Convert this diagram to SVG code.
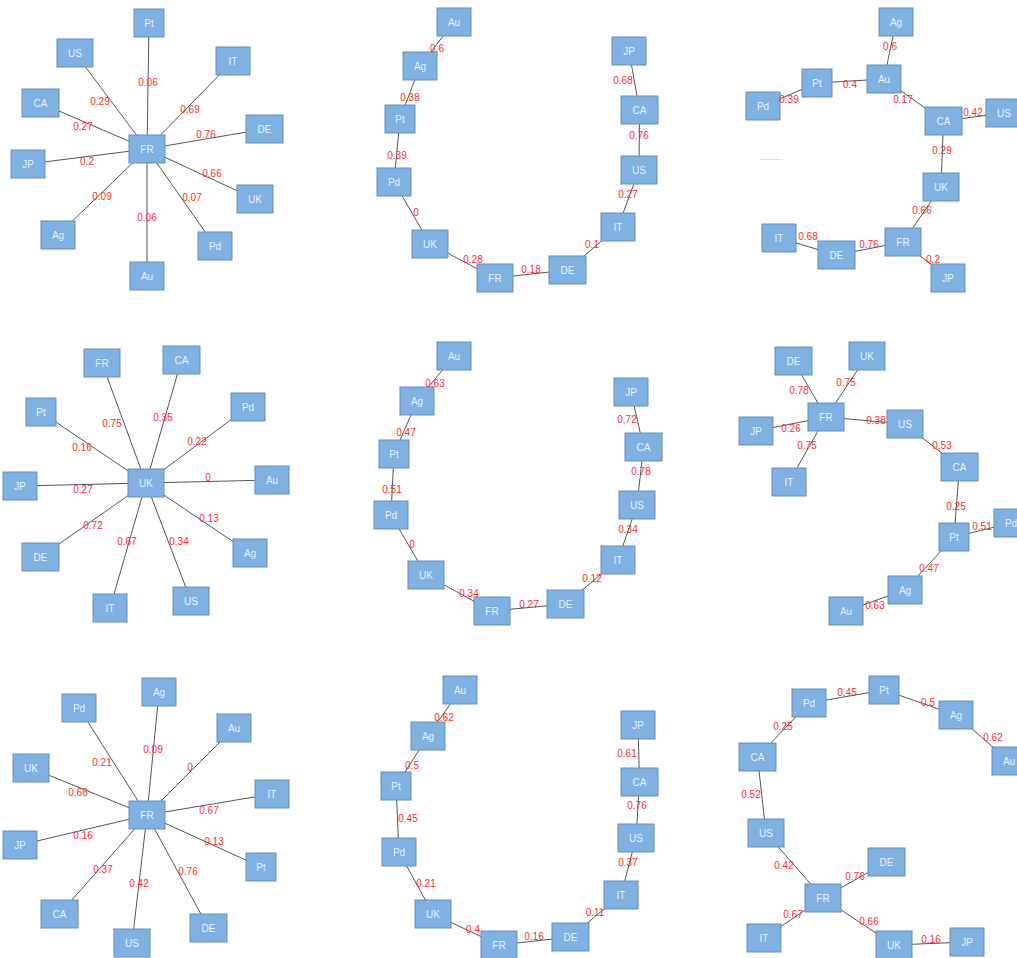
<svg xmlns="http://www.w3.org/2000/svg" width="1017" height="958" viewBox="0 0 1017 958">
<style>
.n rect{fill:#7fb1e3;stroke:#6a8db3;stroke-width:1}
.n text{fill:#eaf2fb;font-family:"Liberation Sans",Arial,sans-serif;font-size:10px;text-anchor:middle}
.e line{stroke:#555;stroke-width:1}
.l text{fill:#ff2b2b;font-family:"Liberation Sans",Arial,sans-serif;font-size:10px;text-anchor:middle}
</style>
<rect width="1017" height="958" fill="#fff"/>
<g id="connectors" class="e">
<!-- panel 1 -->
<line x1="147" y1="149" x2="149" y2="23"/>
<line x1="147" y1="149" x2="75" y2="53"/>
<line x1="147" y1="149" x2="233" y2="61"/>
<line x1="147" y1="149" x2="40.5" y2="103"/>
<line x1="147" y1="149" x2="264.5" y2="129"/>
<line x1="147" y1="149" x2="28" y2="164"/>
<line x1="147" y1="149" x2="255" y2="199"/>
<line x1="147" y1="149" x2="58" y2="235"/>
<line x1="147" y1="149" x2="215" y2="246"/>
<line x1="147" y1="149" x2="147" y2="276"/>
<!-- panel 2 -->
<line x1="454" y1="22" x2="420" y2="66"/>
<line x1="420" y1="66" x2="400" y2="119"/>
<line x1="400" y1="119" x2="394" y2="182"/>
<line x1="394" y1="182" x2="430" y2="244"/>
<line x1="430" y1="244" x2="495" y2="278"/>
<line x1="495" y1="278" x2="567.5" y2="270"/>
<line x1="567.5" y1="270" x2="618" y2="227"/>
<line x1="618" y1="227" x2="639" y2="170"/>
<line x1="639" y1="170" x2="639.5" y2="110"/>
<line x1="639.5" y1="110" x2="629" y2="51"/>
<!-- panel 3 -->
<line x1="896" y1="22" x2="884" y2="79"/>
<line x1="884" y1="79" x2="817" y2="83"/>
<line x1="817" y1="83" x2="763" y2="106"/>
<line x1="884" y1="79" x2="943.5" y2="121"/>
<line x1="943.5" y1="121" x2="1004" y2="113"/>
<line x1="943.5" y1="121" x2="941" y2="187"/>
<line x1="941" y1="187" x2="903" y2="242"/>
<line x1="903" y1="242" x2="836.5" y2="255"/>
<line x1="836.5" y1="255" x2="779" y2="238"/>
<line x1="903" y1="242" x2="948" y2="278"/>
<line x1="760" y1="159.5" x2="781" y2="159.5" style="stroke:#ddd"/>
<!-- panel 4 -->
<line x1="146" y1="483" x2="102" y2="363"/>
<line x1="146" y1="483" x2="181.5" y2="360"/>
<line x1="146" y1="483" x2="41" y2="412"/>
<line x1="146" y1="483" x2="248" y2="407"/>
<line x1="146" y1="483" x2="20" y2="486"/>
<line x1="146" y1="483" x2="272" y2="480"/>
<line x1="146" y1="483" x2="40.5" y2="557"/>
<line x1="146" y1="483" x2="250" y2="553"/>
<line x1="146" y1="483" x2="110" y2="608"/>
<line x1="146" y1="483" x2="191" y2="601"/>
<!-- panel 5 -->
<line x1="454" y1="356" x2="417" y2="401"/>
<line x1="417" y1="401" x2="394" y2="454"/>
<line x1="394" y1="454" x2="391" y2="515"/>
<line x1="391" y1="515" x2="426" y2="575"/>
<line x1="426" y1="575" x2="492" y2="611"/>
<line x1="492" y1="611" x2="565.5" y2="604"/>
<line x1="565.5" y1="604" x2="618" y2="560"/>
<line x1="618" y1="560" x2="637" y2="505"/>
<line x1="637" y1="505" x2="643.5" y2="447"/>
<line x1="643.5" y1="447" x2="631" y2="392"/>
<!-- panel 6 -->
<line x1="826" y1="417" x2="793.5" y2="361"/>
<line x1="826" y1="417" x2="867" y2="356"/>
<line x1="826" y1="417" x2="756" y2="431"/>
<line x1="826" y1="417" x2="789" y2="482"/>
<line x1="826" y1="417" x2="905" y2="424"/>
<line x1="905" y1="424" x2="959.5" y2="467"/>
<line x1="959.5" y1="467" x2="954" y2="537"/>
<line x1="954" y1="537" x2="1011" y2="523"/>
<line x1="954" y1="537" x2="905" y2="590"/>
<line x1="905" y1="590" x2="846" y2="611"/>
<!-- panel 7 -->
<line x1="147" y1="815" x2="159" y2="692"/>
<line x1="147" y1="815" x2="79" y2="708"/>
<line x1="147" y1="815" x2="234" y2="728"/>
<line x1="147" y1="815" x2="31" y2="768"/>
<line x1="147" y1="815" x2="272" y2="794"/>
<line x1="147" y1="815" x2="20" y2="845"/>
<line x1="147" y1="815" x2="261" y2="867"/>
<line x1="147" y1="815" x2="59.5" y2="914"/>
<line x1="147" y1="815" x2="132" y2="943"/>
<line x1="147" y1="815" x2="208.5" y2="928"/>
<!-- panel 8 -->
<line x1="460" y1="690" x2="428" y2="736"/>
<line x1="428" y1="736" x2="396" y2="786"/>
<line x1="396" y1="786" x2="399" y2="852"/>
<line x1="399" y1="852" x2="433" y2="914"/>
<line x1="433" y1="914" x2="499" y2="945"/>
<line x1="499" y1="945" x2="570.5" y2="937"/>
<line x1="570.5" y1="937" x2="621" y2="895"/>
<line x1="621" y1="895" x2="636" y2="838"/>
<line x1="636" y1="838" x2="639.5" y2="782"/>
<line x1="639.5" y1="782" x2="638" y2="725"/>
<!-- panel 9 -->
<line x1="809" y1="703" x2="884" y2="690"/>
<line x1="884" y1="690" x2="956" y2="715"/>
<line x1="956" y1="715" x2="1009" y2="761"/>
<line x1="809" y1="703" x2="757.5" y2="757"/>
<line x1="757.5" y1="757" x2="766" y2="833"/>
<line x1="766" y1="833" x2="823" y2="898"/>
<line x1="823" y1="898" x2="886.5" y2="862"/>
<line x1="823" y1="898" x2="764" y2="938"/>
<line x1="823" y1="898" x2="894" y2="945"/>
<line x1="894" y1="945" x2="967" y2="942"/>
</g>
<!-- panel 1 nodes -->
<g id="p1-Pt" class="n"><rect x="134" y="9" width="30" height="28"/><text x="149" y="26.5">Pt</text></g>
<g id="p1-US" class="n"><rect x="57" y="39" width="36" height="28"/><text x="75" y="56.5">US</text></g>
<g id="p1-IT" class="n"><rect x="216" y="47" width="34" height="28"/><text x="233" y="64.5">IT</text></g>
<g id="p1-CA" class="n"><rect x="22" y="89" width="37" height="28"/><text x="40.5" y="106.5">CA</text></g>
<g id="p1-DE" class="n"><rect x="246" y="115" width="37" height="28"/><text x="264.5" y="132.5">DE</text></g>
<g id="p1-FR" class="n"><rect x="129" y="135" width="36" height="28"/><text x="147" y="152.5">FR</text></g>
<g id="p1-JP" class="n"><rect x="11" y="150" width="34" height="28"/><text x="28" y="167.5">JP</text></g>
<g id="p1-UK" class="n"><rect x="237" y="185" width="36" height="28"/><text x="255" y="202.5">UK</text></g>
<g id="p1-Ag" class="n"><rect x="41" y="221" width="34" height="28"/><text x="58" y="238.5">Ag</text></g>
<g id="p1-Pd" class="n"><rect x="198" y="232" width="34" height="28"/><text x="215" y="249.5">Pd</text></g>
<g id="p1-Au" class="n"><rect x="130" y="262" width="34" height="28"/><text x="147" y="279.5">Au</text></g>
<!-- panel 2 nodes -->
<g id="p2-Au" class="n"><rect x="437" y="8" width="34" height="28"/><text x="454" y="25.5">Au</text></g>
<g id="p2-Ag" class="n"><rect x="403" y="52" width="34" height="28"/><text x="420" y="69.5">Ag</text></g>
<g id="p2-Pt" class="n"><rect x="385" y="105" width="30" height="28"/><text x="400" y="122.5">Pt</text></g>
<g id="p2-Pd" class="n"><rect x="377" y="168" width="34" height="28"/><text x="394" y="185.5">Pd</text></g>
<g id="p2-UK" class="n"><rect x="412" y="230" width="36" height="28"/><text x="430" y="247.5">UK</text></g>
<g id="p2-FR" class="n"><rect x="477" y="264" width="36" height="28"/><text x="495" y="281.5">FR</text></g>
<g id="p2-DE" class="n"><rect x="549" y="256" width="37" height="28"/><text x="567.5" y="273.5">DE</text></g>
<g id="p2-IT" class="n"><rect x="601" y="213" width="34" height="28"/><text x="618" y="230.5">IT</text></g>
<g id="p2-US" class="n"><rect x="621" y="156" width="36" height="28"/><text x="639" y="173.5">US</text></g>
<g id="p2-CA" class="n"><rect x="621" y="96" width="37" height="28"/><text x="639.5" y="113.5">CA</text></g>
<g id="p2-JP" class="n"><rect x="612" y="37" width="34" height="28"/><text x="629" y="54.5">JP</text></g>
<!-- panel 3 nodes -->
<g id="p3-Ag" class="n"><rect x="879" y="8" width="34" height="28"/><text x="896" y="25.5">Ag</text></g>
<g id="p3-Au" class="n"><rect x="867" y="65" width="34" height="28"/><text x="884" y="82.5">Au</text></g>
<g id="p3-Pt" class="n"><rect x="802" y="69" width="30" height="28"/><text x="817" y="86.5">Pt</text></g>
<g id="p3-Pd" class="n"><rect x="746" y="92" width="34" height="28"/><text x="763" y="109.5">Pd</text></g>
<g id="p3-CA" class="n"><rect x="925" y="107" width="37" height="28"/><text x="943.5" y="124.5">CA</text></g>
<g id="p3-US" class="n"><rect x="986" y="99" width="36" height="28"/><text x="1004" y="116.5">US</text></g>
<g id="p3-UK" class="n"><rect x="923" y="173" width="36" height="28"/><text x="941" y="190.5">UK</text></g>
<g id="p3-FR" class="n"><rect x="885" y="228" width="36" height="28"/><text x="903" y="245.5">FR</text></g>
<g id="p3-DE" class="n"><rect x="818" y="241" width="37" height="28"/><text x="836.5" y="258.5">DE</text></g>
<g id="p3-IT" class="n"><rect x="762" y="224" width="34" height="28"/><text x="779" y="241.5">IT</text></g>
<g id="p3-JP" class="n"><rect x="931" y="264" width="34" height="28"/><text x="948" y="281.5">JP</text></g>
<!-- panel 4 nodes -->
<g id="p4-FR" class="n"><rect x="84" y="349" width="36" height="28"/><text x="102" y="366.5">FR</text></g>
<g id="p4-CA" class="n"><rect x="163" y="346" width="37" height="28"/><text x="181.5" y="363.5">CA</text></g>
<g id="p4-Pt" class="n"><rect x="26" y="398" width="30" height="28"/><text x="41" y="415.5">Pt</text></g>
<g id="p4-Pd" class="n"><rect x="231" y="393" width="34" height="28"/><text x="248" y="410.5">Pd</text></g>
<g id="p4-JP" class="n"><rect x="3" y="472" width="34" height="28"/><text x="20" y="489.5">JP</text></g>
<g id="p4-UK" class="n"><rect x="128" y="469" width="36" height="28"/><text x="146" y="486.5">UK</text></g>
<g id="p4-Au" class="n"><rect x="255" y="466" width="34" height="28"/><text x="272" y="483.5">Au</text></g>
<g id="p4-DE" class="n"><rect x="22" y="543" width="37" height="28"/><text x="40.5" y="560.5">DE</text></g>
<g id="p4-Ag" class="n"><rect x="233" y="539" width="34" height="28"/><text x="250" y="556.5">Ag</text></g>
<g id="p4-IT" class="n"><rect x="93" y="594" width="34" height="28"/><text x="110" y="611.5">IT</text></g>
<g id="p4-US" class="n"><rect x="173" y="587" width="36" height="28"/><text x="191" y="604.5">US</text></g>
<!-- panel 5 nodes -->
<g id="p5-Au" class="n"><rect x="437" y="342" width="34" height="28"/><text x="454" y="359.5">Au</text></g>
<g id="p5-Ag" class="n"><rect x="400" y="387" width="34" height="28"/><text x="417" y="404.5">Ag</text></g>
<g id="p5-Pt" class="n"><rect x="379" y="440" width="30" height="28"/><text x="394" y="457.5">Pt</text></g>
<g id="p5-Pd" class="n"><rect x="374" y="501" width="34" height="28"/><text x="391" y="518.5">Pd</text></g>
<g id="p5-UK" class="n"><rect x="408" y="561" width="36" height="28"/><text x="426" y="578.5">UK</text></g>
<g id="p5-FR" class="n"><rect x="474" y="597" width="36" height="28"/><text x="492" y="614.5">FR</text></g>
<g id="p5-DE" class="n"><rect x="547" y="590" width="37" height="28"/><text x="565.5" y="607.5">DE</text></g>
<g id="p5-IT" class="n"><rect x="601" y="546" width="34" height="28"/><text x="618" y="563.5">IT</text></g>
<g id="p5-US" class="n"><rect x="619" y="491" width="36" height="28"/><text x="637" y="508.5">US</text></g>
<g id="p5-CA" class="n"><rect x="625" y="433" width="37" height="28"/><text x="643.5" y="450.5">CA</text></g>
<g id="p5-JP" class="n"><rect x="614" y="378" width="34" height="28"/><text x="631" y="395.5">JP</text></g>
<!-- panel 6 nodes -->
<g id="p6-DE" class="n"><rect x="775" y="347" width="37" height="28"/><text x="793.5" y="364.5">DE</text></g>
<g id="p6-UK" class="n"><rect x="849" y="342" width="36" height="28"/><text x="867" y="359.5">UK</text></g>
<g id="p6-FR" class="n"><rect x="808" y="403" width="36" height="28"/><text x="826" y="420.5">FR</text></g>
<g id="p6-JP" class="n"><rect x="739" y="417" width="34" height="28"/><text x="756" y="434.5">JP</text></g>
<g id="p6-US" class="n"><rect x="887" y="410" width="36" height="28"/><text x="905" y="427.5">US</text></g>
<g id="p6-IT" class="n"><rect x="772" y="468" width="34" height="28"/><text x="789" y="485.5">IT</text></g>
<g id="p6-CA" class="n"><rect x="941" y="453" width="37" height="28"/><text x="959.5" y="470.5">CA</text></g>
<g id="p6-Pt" class="n"><rect x="939" y="523" width="30" height="28"/><text x="954" y="540.5">Pt</text></g>
<g id="p6-Pd" class="n"><rect x="994" y="509" width="34" height="28"/><text x="1011" y="526.5">Pd</text></g>
<g id="p6-Ag" class="n"><rect x="888" y="576" width="34" height="28"/><text x="905" y="593.5">Ag</text></g>
<g id="p6-Au" class="n"><rect x="829" y="597" width="34" height="28"/><text x="846" y="614.5">Au</text></g>
<!-- panel 7 nodes -->
<g id="p7-Ag" class="n"><rect x="142" y="678" width="34" height="28"/><text x="159" y="695.5">Ag</text></g>
<g id="p7-Pd" class="n"><rect x="62" y="694" width="34" height="28"/><text x="79" y="711.5">Pd</text></g>
<g id="p7-Au" class="n"><rect x="217" y="714" width="34" height="28"/><text x="234" y="731.5">Au</text></g>
<g id="p7-UK" class="n"><rect x="13" y="754" width="36" height="28"/><text x="31" y="771.5">UK</text></g>
<g id="p7-IT" class="n"><rect x="255" y="780" width="34" height="28"/><text x="272" y="797.5">IT</text></g>
<g id="p7-FR" class="n"><rect x="129" y="801" width="36" height="28"/><text x="147" y="818.5">FR</text></g>
<g id="p7-JP" class="n"><rect x="3" y="831" width="34" height="28"/><text x="20" y="848.5">JP</text></g>
<g id="p7-Pt" class="n"><rect x="246" y="853" width="30" height="28"/><text x="261" y="870.5">Pt</text></g>
<g id="p7-CA" class="n"><rect x="41" y="900" width="37" height="28"/><text x="59.5" y="917.5">CA</text></g>
<g id="p7-US" class="n"><rect x="114" y="929" width="36" height="28"/><text x="132" y="946.5">US</text></g>
<g id="p7-DE" class="n"><rect x="190" y="914" width="37" height="28"/><text x="208.5" y="931.5">DE</text></g>
<!-- panel 8 nodes -->
<g id="p8-Au" class="n"><rect x="443" y="676" width="34" height="28"/><text x="460" y="693.5">Au</text></g>
<g id="p8-Ag" class="n"><rect x="411" y="722" width="34" height="28"/><text x="428" y="739.5">Ag</text></g>
<g id="p8-Pt" class="n"><rect x="381" y="772" width="30" height="28"/><text x="396" y="789.5">Pt</text></g>
<g id="p8-Pd" class="n"><rect x="382" y="838" width="34" height="28"/><text x="399" y="855.5">Pd</text></g>
<g id="p8-UK" class="n"><rect x="415" y="900" width="36" height="28"/><text x="433" y="917.5">UK</text></g>
<g id="p8-FR" class="n"><rect x="481" y="931" width="36" height="28"/><text x="499" y="948.5">FR</text></g>
<g id="p8-DE" class="n"><rect x="552" y="923" width="37" height="28"/><text x="570.5" y="940.5">DE</text></g>
<g id="p8-IT" class="n"><rect x="604" y="881" width="34" height="28"/><text x="621" y="898.5">IT</text></g>
<g id="p8-US" class="n"><rect x="618" y="824" width="36" height="28"/><text x="636" y="841.5">US</text></g>
<g id="p8-CA" class="n"><rect x="621" y="768" width="37" height="28"/><text x="639.5" y="785.5">CA</text></g>
<g id="p8-JP" class="n"><rect x="621" y="711" width="34" height="28"/><text x="638" y="728.5">JP</text></g>
<!-- panel 9 nodes -->
<g id="p9-Pt" class="n"><rect x="869" y="676" width="30" height="28"/><text x="884" y="693.5">Pt</text></g>
<g id="p9-Pd" class="n"><rect x="792" y="689" width="34" height="28"/><text x="809" y="706.5">Pd</text></g>
<g id="p9-Ag" class="n"><rect x="939" y="701" width="34" height="28"/><text x="956" y="718.5">Ag</text></g>
<g id="p9-Au" class="n"><rect x="992" y="747" width="34" height="28"/><text x="1009" y="764.5">Au</text></g>
<g id="p9-CA" class="n"><rect x="739" y="743" width="37" height="28"/><text x="757.5" y="760.5">CA</text></g>
<g id="p9-US" class="n"><rect x="748" y="819" width="36" height="28"/><text x="766" y="836.5">US</text></g>
<g id="p9-DE" class="n"><rect x="868" y="848" width="37" height="28"/><text x="886.5" y="865.5">DE</text></g>
<g id="p9-FR" class="n"><rect x="805" y="884" width="36" height="28"/><text x="823" y="901.5">FR</text></g>
<g id="p9-IT" class="n"><rect x="747" y="924" width="34" height="28"/><text x="764" y="941.5">IT</text></g>
<g id="p9-UK" class="n"><rect x="876" y="931" width="36" height="28"/><text x="894" y="948.5">UK</text></g>
<g id="p9-JP" class="n"><rect x="950" y="928" width="34" height="28"/><text x="967" y="945.5">JP</text></g>
<g id="edge-labels" class="l">
<text x="148" y="86">0.06</text><text x="100" y="105">0.29</text><text x="190" y="113">0.69</text><text x="83" y="130">0.27</text><text x="206" y="138">0.76</text><text x="87" y="165">0.2</text><text x="212" y="177">0.66</text><text x="102" y="200">0.09</text><text x="192" y="201">0.07</text><text x="147" y="221">0.06</text>
<text x="437" y="52">0.6</text><text x="410" y="101">0.38</text><text x="397" y="159">0.39</text><text x="416" y="216">0</text><text x="473" y="263">0.28</text><text x="531" y="273">0.18</text><text x="592" y="248">0.1</text><text x="628" y="198">0.27</text><text x="639" y="139">0.76</text><text x="623" y="84">0.68</text>
<text x="890" y="50">0.6</text><text x="850" y="88">0.4</text><text x="789" y="103">0.39</text><text x="903" y="103">0.17</text><text x="973" y="116">0.42</text><text x="942" y="154">0.29</text><text x="922" y="214">0.66</text><text x="808" y="240">0.68</text><text x="869" y="248">0.76</text><text x="933" y="263">0.2</text>
<text x="112" y="427">0.75</text><text x="163" y="421">0.35</text><text x="82" y="451">0.16</text><text x="197" y="445">0.22</text><text x="208" y="481">0</text><text x="83" y="493">0.27</text><text x="209" y="522">0.13</text><text x="93" y="529">0.72</text><text x="127" y="545">0.67</text><text x="179" y="545">0.34</text>
<text x="435" y="387">0.63</text><text x="406" y="436">0.47</text><text x="392" y="493">0.51</text><text x="412" y="548">0</text><text x="469" y="597">0.34</text><text x="529" y="608">0.27</text><text x="592" y="582">0.12</text><text x="628" y="533">0.34</text><text x="641" y="475">0.78</text><text x="627" y="423">0.72</text>
<text x="799" y="394">0.78</text><text x="846" y="386">0.75</text><text x="876" y="424">0.38</text><text x="791" y="432">0.26</text><text x="807" y="449">0.75</text><text x="942" y="449">0.53</text><text x="956" y="510">0.25</text><text x="982" y="530">0.51</text><text x="929" y="572">0.47</text><text x="875" y="609">0.63</text>
<text x="153" y="753">0.09</text><text x="102" y="766">0.21</text><text x="190" y="771">0</text><text x="78" y="796">0.66</text><text x="209" y="814">0.67</text><text x="83" y="839">0.16</text><text x="214" y="845">0.13</text><text x="103" y="873">0.37</text><text x="188" y="875">0.76</text><text x="139" y="887">0.42</text>
<text x="444" y="721">0.62</text><text x="412" y="769">0.5</text><text x="408" y="822">0.45</text><text x="426" y="887">0.21</text><text x="473" y="933">0.4</text><text x="534" y="940">0.16</text><text x="595" y="916">0.11</text><text x="628" y="866">0.37</text><text x="637" y="809">0.76</text><text x="627" y="757">0.61</text>
<text x="847" y="696">0.45</text><text x="928" y="706">0.5</text><text x="783" y="730">0.25</text><text x="993" y="741">0.62</text><text x="751" y="798">0.52</text><text x="784" y="869">0.42</text><text x="855" y="880">0.76</text><text x="793" y="918">0.67</text><text x="869" y="925">0.66</text><text x="931" y="943">0.16</text>
</g>
</svg>
